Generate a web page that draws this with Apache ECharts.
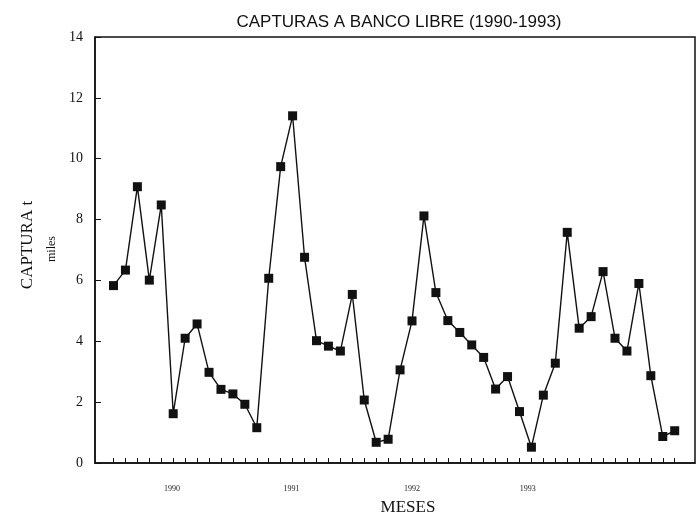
<!DOCTYPE html>
<html>
<head>
<meta charset="utf-8">
<script src="https://cdn.jsdelivr.net/npm/echarts@6/dist/echarts.min.js"></script>
<style>
  html, body { margin: 0; padding: 0; background: #fff; }
  #chart { width: 697px; height: 520px; }
</style>
</head>
<body>
<div id="chart"></div>
<script>
// monthly catch, thousands, Jan 1990 .. Dec 1993
const captura = [
  5.83, 6.34, 9.08, 6.01, 8.48, 1.62, 4.10, 4.57, 2.98, 2.42, 2.27, 1.93,
  1.16, 6.07, 9.74, 11.41, 6.76, 4.02, 3.84, 3.68, 5.54, 2.07, 0.68, 0.78,
  3.06, 4.67, 8.12, 5.60, 4.68, 4.29, 3.88, 3.47, 2.43, 2.84, 1.69, 0.52,
  2.23, 3.28, 7.58, 4.43, 4.81, 6.29, 4.10, 3.68, 5.90, 2.87, 0.87, 1.06,
];
const yearLabels = ['1990', '1991', '1992', '1993'];
const yearLabelPos = [4.9, 14.9, 25.0, 34.7];

const chart = echarts.init(document.getElementById('chart'));

const points = captura.map((v, i) => [i, v]);
const monthTicks = captura.map((v, i) => i);

const serif = '"Liberation Serif", "DejaVu Serif", serif';

chart.setOption({
  animation: false,
  title: {
    text: 'CAPTURAS A BANCO LIBRE (1990-1993)',
    left: 394,
    top: 9,
    textAlign: 'center',
    textStyle: {
      fontFamily: '"Liberation Sans", Arial, sans-serif',
      fontSize: 17,
      fontWeight: 'normal',
      color: '#111',
    },
  },
  grid: {
    left: 95,
    right: 2,
    top: 37,
    bottom: 57,
    show: true,
    borderColor: '#111',
    borderWidth: 1.5,
  },
  xAxis: {
    type: 'value',
    min: -1.55,
    max: 48.7,
    splitLine: { show: false },
    axisLine: { lineStyle: { color: '#111', width: 1.5 } },
    axisTick: {
      inside: true,
      length: 5,
      customValues: monthTicks,
      lineStyle: { color: '#111' },
    },
    axisLabel: {
      customValues: yearLabelPos,
      margin: 22,
      fontFamily: serif,
      fontSize: 8,
      color: '#222',
      formatter: (val) => {
        const k = yearLabelPos.findIndex(p => Math.abs(p - val) < 0.01);
        return k >= 0 ? yearLabels[k] : '';
      },
    },
  },
  yAxis: {
    type: 'value',
    min: 0,
    max: 14,
    interval: 2,
    splitLine: { show: false },
    axisLine: { show: true, onZero: false, lineStyle: { color: '#111', width: 1.5 } },
    axisTick: { show: true, inside: true, length: 6, lineStyle: { color: '#111' } },
    axisLabel: {
      margin: 12,
      fontFamily: serif,
      fontSize: 14,
      color: '#111',
    },
  },
  graphic: [
    {
      type: 'text',
      x: 28,
      y: 245,
      rotation: Math.PI / 2,
      style: {
        text: 'CAPTURA t',
        fontFamily: serif,
        fontSize: 17,
        fill: '#111',
        align: 'center',
        verticalAlign: 'middle',
      },
    },
    {
      type: 'text',
      x: 52,
      y: 249,
      rotation: Math.PI / 2,
      style: {
        text: 'miles',
        fontFamily: serif,
        fontSize: 12,
        fill: '#111',
        align: 'center',
        verticalAlign: 'middle',
      },
    },
    {
      type: 'text',
      x: 408,
      y: 508,
      style: {
        text: 'MESES',
        fontFamily: serif,
        fontSize: 17,
        fill: '#111',
        align: 'center',
        verticalAlign: 'middle',
      },
    },
  ],
  series: [{
    type: 'line',
    data: points,
    symbol: 'rect',
    symbolSize: 9,
    lineStyle: { color: '#111', width: 1.4 },
    itemStyle: { color: '#111', borderWidth: 0 },
  }],
});
</script>
</body>
</html>
